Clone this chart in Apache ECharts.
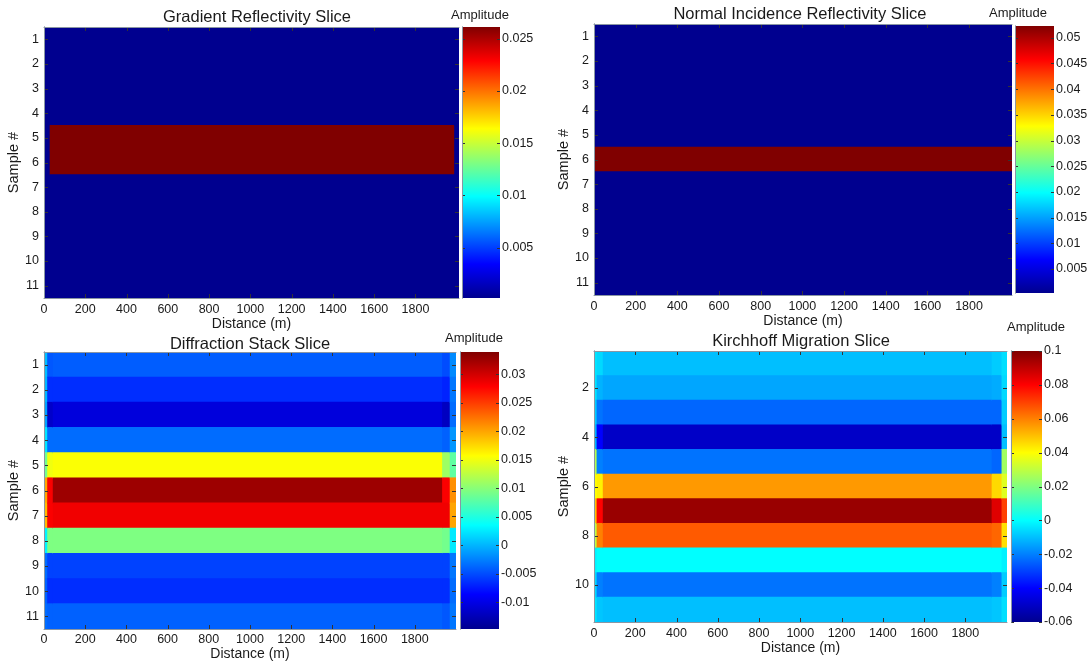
<!DOCTYPE html>
<html><head><meta charset="utf-8">
<script src="https://cdn.jsdelivr.net/npm/echarts@6/dist/echarts.min.js"></script>
<style>html,body{margin:0;padding:0;background:#fff}#c{width:1092px;height:662px}</style>
</head><body><div id="c"></div>
<script>
// ---------- shared ticks / categories ----------
const distanceTicks = [0, 200, 400, 600, 800, 1000, 1200, 1400, 1600, 1800];
const sampleCategories = ['1', '2', '3', '4', '5', '6', '7', '8', '9', '10', '11'];
const sampleTicks = ['1', '2', '3', '4', '5', '6', '7', '8', '9', '10', '11'];
const sampleTicksKirchhoff = ['2', '4', '6', '8', '10'];

// ---------- Gradient Reflectivity Slice ----------
const gradXMax = 2011;
const gradSegments = [[0, 30], [30, 1990], [1990, 2011]];
const gradValues = [
  [0.0002, 0.0002, 0.0002, 0.0002, 0.0002, 0.0002, 0.0002, 0.0002, 0.0002, 0.0002, 0.0002],
  [0.0002, 0.0002, 0.0002, 0.0002, 0.0261, 0.0261, 0.0002, 0.0002, 0.0002, 0.0002, 0.0002],
  [0.0002, 0.0002, 0.0002, 0.0002, 0.0002, 0.0002, 0.0002, 0.0002, 0.0002, 0.0002, 0.0002]
];
const gradRange = [0.0002, 0.0261];
const gradCbarTicks = [0.005, 0.01, 0.015, 0.02, 0.025];

// ---------- Normal Incidence Reflectivity Slice ----------
const normXMax = 2006;
const normSegments = [[0, 2006]];
const normValues = [
  [0.0003, 0.0003, 0.0003, 0.0003, 0.0003, 0.0523, 0.0003, 0.0003, 0.0003, 0.0003, 0.0003]
];
const normRange = [0.0003, 0.0523];
const normCbarTicks = [0.005, 0.01, 0.015, 0.02, 0.025, 0.03, 0.035, 0.04, 0.045, 0.05];

// ---------- Diffraction Stack Slice ----------
const diffXMax = 2000;
const diffSegments = [[0, 18], [18, 45], [45, 1935], [1935, 1972], [1972, 2000]];
const diffValues = [
  [0.0004, 0.0000, -0.0010, 0.0023, 0.0090, 0.0200, 0.0190, 0.0030, -0.0035, -0.0040, -0.0035],
  [-0.0045, -0.0065, -0.0115, -0.0035, 0.0150, 0.0280, 0.0280, 0.0095, -0.0055, -0.0065, -0.0040],
  [-0.0042, -0.0065, -0.0105, -0.0035, 0.0155, 0.0325, 0.0285, 0.0095, -0.0055, -0.0065, -0.0040],
  [-0.0050, -0.0070, -0.0120, -0.0040, 0.0110, 0.0280, 0.0285, 0.0090, -0.0055, -0.0065, -0.0045],
  [-0.0020, -0.0030, -0.0035, -0.0015, 0.0080, 0.0210, 0.0200, 0.0025, -0.0030, -0.0035, -0.0030]
];
const diffRange = [-0.0147, 0.0339];
const diffCbarTicks = [-0.01, -0.005, 0, 0.005, 0.01, 0.015, 0.02, 0.025, 0.03];

// ---------- Kirchhoff Migration Slice ----------
const kirchXMax = 2002;
const kirchSegments = [[0, 15], [15, 45], [45, 1930], [1930, 1978], [1978, 2002]];
const kirchValues = [
  [-0.004, -0.004, -0.008, -0.012, 0.028, 0.040, 0.050, 0.030, -0.002, -0.006, -0.004],
  [-0.006, -0.012, -0.022, -0.040, -0.020, 0.042, 0.080, 0.060, 0.000, -0.020, -0.009],
  [-0.010, -0.014, -0.024, -0.050, -0.022, 0.056, 0.096, 0.066, 0.000, -0.022, -0.010],
  [-0.008, -0.013, -0.024, -0.050, -0.024, 0.046, 0.085, 0.064, 0.000, -0.020, -0.009],
  [-0.005, -0.006, -0.008, -0.010, 0.025, 0.035, 0.070, 0.045, -0.002, -0.008, -0.005]
];
const kirchRange = [-0.06, 0.1];
const kirchCbarTicks = [-0.06, -0.04, -0.02, 0, 0.02, 0.04, 0.06, 0.08, 0.1];

// ---------- colormap (jet) ----------
const jetColors = ['#00008f', '#0000ff', '#0080ff', '#00ffff', '#80ff80', '#ffff00', '#ff8000', '#ff0000', '#800000'];

const FONT = "'Liberation Sans', Arial, sans-serif";
const TXT = '#1a1a1a';
const TICK_COLOR = '#333';

const panels = [
  { title: 'Gradient Reflectivity Slice', segs: gradSegments, vals: gradValues, range: gradRange, cbTicks: gradCbarTicks, yTicks: sampleTicks, xMax: gradXMax,
    grid: [44, 27, 415, 271], cb: [462, 27, 38, 271], titlePos: [257, 17], ampPos: [480, 15], xGap: 17, xMargin: 5 },
  { title: 'Normal Incidence Reflectivity Slice', segs: normSegments, vals: normValues, range: normRange, cbTicks: normCbarTicks, yTicks: sampleTicks, xMax: normXMax,
    grid: [594, 24, 418, 271], cb: [1015, 26, 39, 267], titlePos: [800, 14], ampPos: [1018, 13], xGap: 16, xMargin: 5 },
  { title: 'Diffraction Stack Slice', segs: diffSegments, vals: diffValues, range: diffRange, cbTicks: diffCbarTicks, yTicks: sampleTicks, xMax: diffXMax,
    grid: [44, 352, 412, 277], cb: [460, 352, 39, 277], titlePos: [250, 344], ampPos: [474, 338], xGap: 13, xMargin: 4 },
  { title: 'Kirchhoff Migration Slice', segs: kirchSegments, vals: kirchValues, range: kirchRange, cbTicks: kirchCbarTicks, yTicks: sampleTicksKirchhoff, xMax: kirchXMax,
    grid: [594, 351, 413, 271], cb: [1011, 351, 31, 271], titlePos: [801, 341], ampPos: [1036, 327], xGap: 17, xMargin: 5 }
];

const fmt = v => String(+(+v).toFixed(4));

function tickLine(x1, y1, x2, y2) {
  return { type: 'line', shape: { x1, y1, x2, y2 }, style: { stroke: TICK_COLOR, lineWidth: 1 } };
}

const option = { animation: false, backgroundColor: '#ffffff', grid: [], xAxis: [], yAxis: [], series: [], visualMap: [], graphic: [] };

panels.forEach((p, k) => {
  const gMain = option.grid.length;
  option.grid.push({ left: p.grid[0], top: p.grid[1], width: p.grid[2], height: p.grid[3], containLabel: false });
  const gCb = option.grid.length;
  option.grid.push({ left: p.cb[0], top: p.cb[1], width: p.cb[2], height: p.cb[3], containLabel: false });

  const lineStyle = { color: '#8a96a3', width: 1 };

  const xb = option.xAxis.length;
  option.xAxis.push({
    type: 'value', gridIndex: gMain, position: 'bottom', min: 0, max: p.xMax, z: 5,
    name: 'Distance (m)', nameLocation: 'middle', nameGap: p.xGap,
    nameTextStyle: { fontFamily: FONT, fontSize: 14, color: TXT },
    axisLine: { show: true, lineStyle },
    axisTick: { show: false },
    axisLabel: { show: true, customValues: distanceTicks, margin: p.xMargin, fontFamily: FONT, fontSize: 12.5, color: TXT, formatter: fmt },
    splitLine: { show: false }
  });
  option.xAxis.push({
    type: 'value', gridIndex: gMain, position: 'top', min: 0, max: p.xMax, z: 5,
    axisLine: { show: true, lineStyle }, axisTick: { show: false },
    axisLabel: { show: false }, splitLine: { show: false }
  });
  const yl = option.yAxis.length;
  const tickSet = new Set(p.yTicks);
  option.yAxis.push({
    type: 'category', gridIndex: gMain, position: 'left', inverse: true, data: sampleCategories, boundaryGap: true, z: 5,
    name: 'Sample #', nameLocation: 'middle', nameGap: 21,
    nameTextStyle: { fontFamily: FONT, fontSize: 14.5, color: TXT },
    axisLine: { show: true, lineStyle },
    axisTick: { show: false },
    axisLabel: { show: true, interval: (idx, val) => tickSet.has(val), margin: 5, fontFamily: FONT, fontSize: 12.5, color: TXT },
    splitLine: { show: false }
  });
  option.yAxis.push({
    type: 'category', gridIndex: gMain, position: 'right', inverse: true, data: sampleCategories, boundaryGap: true, z: 5,
    axisLine: { show: true, lineStyle }, axisTick: { show: false },
    axisLabel: { show: false }, splitLine: { show: false }
  });

  // heat cells
  const data = [];
  p.segs.forEach((seg, j) => {
    p.vals[j].forEach((v, i) => { data.push([seg[0], seg[1], sampleCategories[i], v]); });
  });
  const sIdx = option.series.length;
  option.series.push({
    type: 'custom', xAxisIndex: xb, yAxisIndex: yl, clip: true,
    encode: { x: [0, 1], y: 2 },
    data,
    renderItem: (params, api) => {
      const row = api.value(2);
      const p0 = api.coord([api.value(0), row]);
      const p1 = api.coord([api.value(1), row]);
      const h = api.size([0, 1])[1];
      const c = api.visual('color');
      return { type: 'rect',
        shape: { x: Math.min(p0[0], p1[0]) - 0.5, y: p0[1] - h / 2 - 0.5, width: Math.abs(p1[0] - p0[0]) + 1, height: h + 1 },
        style: { fill: c } };
    }
  });
  option.visualMap.push({
    type: 'continuous', show: false, seriesIndex: sIdx, dimension: 3,
    min: p.range[0], max: p.range[1], inRange: { color: jetColors }
  });

  // inner tick marks of the image frame (positions from the axes' scales)
  option.series.push({
    type: 'custom', xAxisIndex: xb, yAxisIndex: yl, z: 4, silent: true,
    data: [[0, sampleCategories[0]]],
    renderItem: (params, api) => {
      const cs = params.coordSys;
      const children = [];
      distanceTicks.forEach(d => {
        const x = Math.round(api.coord([d, 0])[0]) + 0.5;
        children.push(tickLine(x, cs.y, x, cs.y + 4));
        children.push(tickLine(x, cs.y + cs.height, x, cs.y + cs.height - 4));
      });
      p.yTicks.forEach(t => {
        const y = Math.round(api.coord([0, sampleCategories.indexOf(t)])[1]) + 0.5;
        children.push(tickLine(cs.x, y, cs.x + 4, y));
        children.push(tickLine(cs.x + cs.width, y, cs.x + cs.width - 4, y));
      });
      return { type: 'group', children };
    }
  });

  // colorbar
  const cx = option.xAxis.length;
  option.xAxis.push({ type: 'value', gridIndex: gCb, min: 0, max: 1, show: false });
  const cyR = option.yAxis.length;
  option.yAxis.push({
    type: 'value', gridIndex: gCb, position: 'right', min: p.range[0], max: p.range[1], z: 5,
    axisLine: { show: true, lineStyle },
    axisTick: { show: false },
    axisLabel: { show: true, customValues: p.cbTicks, margin: 2, fontFamily: FONT, fontSize: 12.5, color: TXT, formatter: fmt },
    splitLine: { show: false }
  });
  option.yAxis.push({
    type: 'value', gridIndex: gCb, position: 'left', min: p.range[0], max: p.range[1], z: 5,
    axisLine: { show: true, lineStyle }, axisTick: { show: false },
    axisLabel: { show: false }, splitLine: { show: false }
  });
  const stops = jetColors.map((c, i) => ({ offset: i / (jetColors.length - 1), color: c }));
  const cbTicks = p.cbTicks;
  option.series.push({
    type: 'custom', xAxisIndex: cx, yAxisIndex: cyR, clip: false,
    data: [[0, 1, p.range[0], p.range[1]]],
    encode: { x: [0, 1], y: [2, 3] },
    renderItem: (params, api) => {
      const a = api.coord([api.value(0), api.value(2)]);
      const b = api.coord([api.value(1), api.value(3)]);
      const x0 = Math.min(a[0], b[0]), x1 = Math.max(a[0], b[0]);
      const children = [{ type: 'rect',
        shape: { x: x0, y: Math.min(a[1], b[1]), width: x1 - x0, height: Math.abs(b[1] - a[1]) },
        style: { fill: new echarts.graphic.LinearGradient(0, 1, 0, 0, stops) } }];
      cbTicks.forEach(t => {
        const y = Math.round(api.coord([0, t])[1]) + 0.5;
        children.push(tickLine(x0, y, x0 + 3, y));
        children.push(tickLine(x1, y, x1 - 3, y));
      });
      return { type: 'group', children };
    }
  });

  option.graphic.push({ type: 'text', x: p.titlePos[0], y: p.titlePos[1], style: { text: p.title, font: "16.5px " + FONT, fill: TXT, align: 'center', verticalAlign: 'middle' } });
  option.graphic.push({ type: 'text', x: p.ampPos[0], y: p.ampPos[1], style: { text: 'Amplitude', font: "13px " + FONT, fill: TXT, align: 'center', verticalAlign: 'middle' } });
});

const chart = echarts.init(document.getElementById('c'), null, { renderer: 'canvas' });
chart.setOption(option);
</script>
</body></html>
